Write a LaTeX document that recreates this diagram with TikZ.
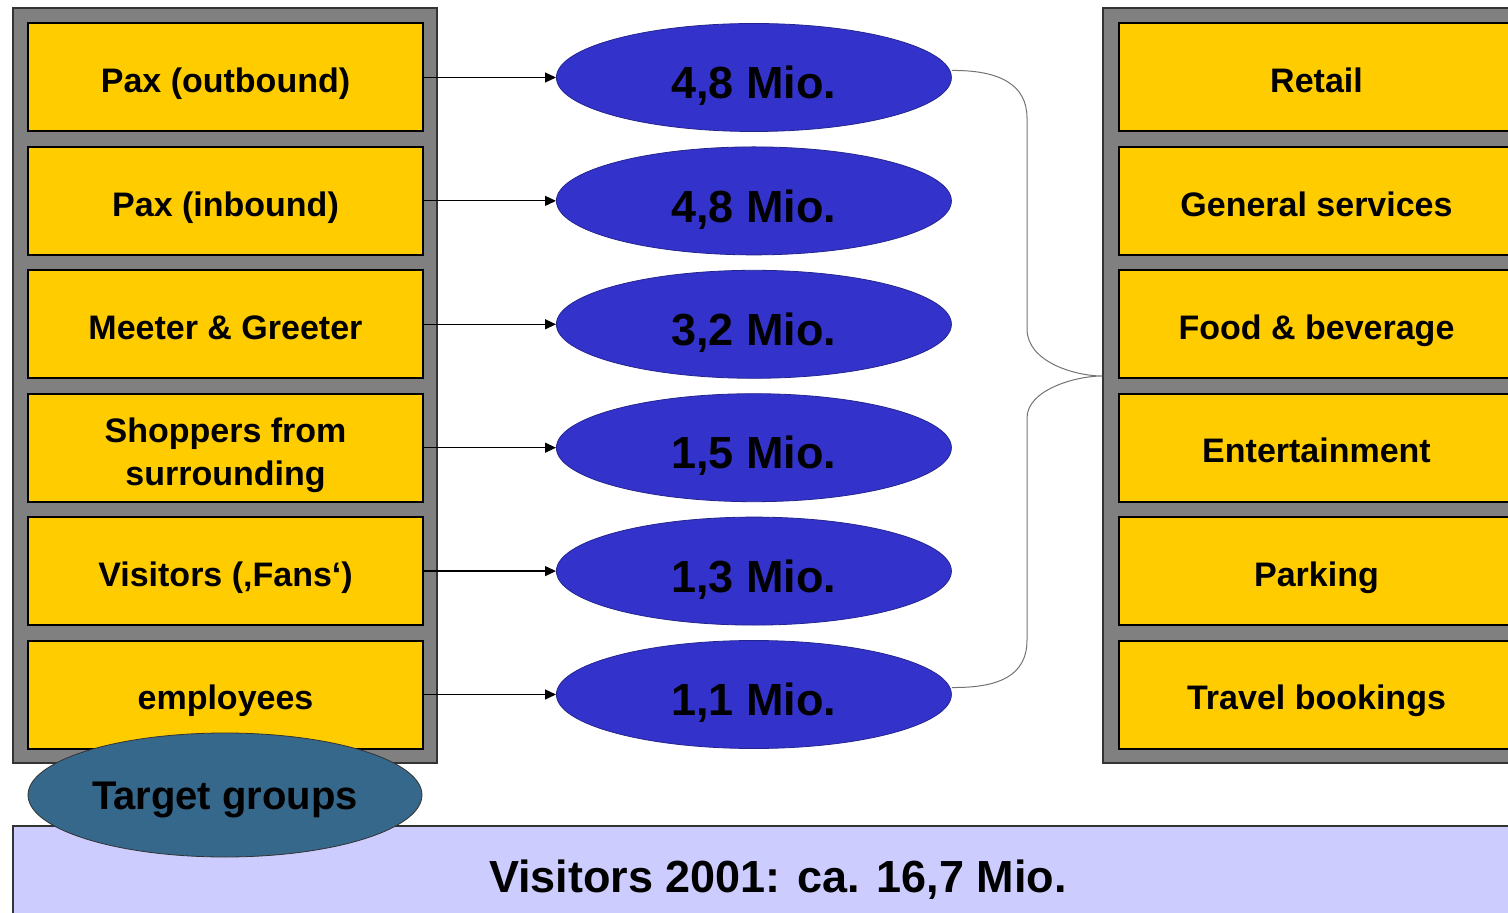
\documentclass[tikz,border=0pt]{standalone}
\usepackage{fontspec}
\setmainfont{Liberation Sans}
\usetikzlibrary{arrows.meta,calc,positioning,shapes.geometric}

\definecolor{boxyellow}{HTML}{FFCC00}
\definecolor{panelgray}{HTML}{808080}
\definecolor{mioblue}{HTML}{3333CC}
\definecolor{steel}{HTML}{36688C}
\definecolor{barlilac}{HTML}{CCCCFF}

\begin{document}
\begin{tikzpicture}[
  x=0.5pt,y=-0.5pt,
  node distance=6.7pt and 66pt,
  panel/.style={draw=black!80,fill=panelgray,line width=0.6pt,minimum width=212pt,minimum height=377.5pt,inner sep=0pt},
  group/.style={draw,fill=boxyellow,line width=1pt,minimum width=197.5pt,minimum height=54pt,inner sep=0pt,align=center,
    text height=15.7pt,text depth=0.5pt,font=\fontsize{17}{21.5}\selectfont\bfseries},
  count/.style={draw=mioblue!70!black,ellipse,fill=mioblue,line width=0.4pt,minimum width=197.5pt,minimum height=54pt,inner sep=0pt,
    text height=21.7pt,text depth=0.5pt,font=\fontsize{22.5}{26}\selectfont\bfseries},
  flow/.style={-{Triangle[length=5.5pt,width=5pt]},line width=0.6pt}]
  \useasboundingbox (0,0) rectangle (1508,913);
  \node[panel] (lpanel) at (225,385.5) {};
  \node[panel] (rpanel) at (1315,385.5) {};
  \node[draw=black!80,fill=barlilac,line width=0.6pt,minimum width=765pt,minimum height=50pt,inner sep=0pt,
    text height=16.7pt,text depth=0.5pt,font=\fontsize{22.5}{26}\selectfont\bfseries] (total) at (778,876) {Visitors 2001: ca. 16,7 Mio.};
  % target groups
  \node[group] (pout) at (225.5,77.5) {Pax (outbound)};
  \node[group,below=of pout] (pin) {Pax (inbound)};
  \node[group,below=of pin] (meet) {Meeter \& Greeter};
  \node[group,below=of meet,text height=41pt,text depth=3.6pt] (shop) {Shoppers from\\surrounding};
  \node[group,below=of shop] (fans) {Visitors (‚Fans‘)};
  \node[group,below=of fans] (empl) {employees};
  % numbers
  \node[count,right=of pout] (c1) {4,8 Mio.};
  \node[count,right=of pin] (c2) {4,8 Mio.};
  \node[count,right=of meet] (c3) {3,2 Mio.};
  \node[count,right=of shop] (c4) {1,5 Mio.};
  \node[count,right=of fans] (c5) {1,3 Mio.};
  \node[count,right=of empl] (c6) {1,1 Mio.};
  \draw[flow] (pout) -- (c1);
  \draw[flow] (pin) -- (c2);
  \draw[flow] (meet) -- (c3);
  \draw[flow] (shop) -- (c4);
  \draw[flow] (fans) -- (c5);
  \draw[flow] (empl) -- (c6);
  % offers
  \node[group] (retail) at (1316.5,77.5) {Retail};
  \node[group,below=of retail] (serv) {General services};
  \node[group,below=of serv] (food) {Food \& beverage};
  \node[group,below=of food] (ent) {Entertainment};
  \node[group,below=of ent] (park) {Parking};
  \node[group,below=of park] (travel) {Travel bookings};
  % brace
  \coordinate (tip) at (rpanel.west |- 0,376);
  \draw[black!55,line width=0.5pt] ($(c1.east)+(0,-7)$) .. controls (1000,70) and (1027,85) .. (1027,118) -- (1027,329)
    .. controls (1027,362) and (1075,376) .. (tip)
    .. controls (1075,376) and (1027,390) .. (1027,418) -- (1027,640)
    .. controls (1027,675) and (1000,688) .. ($(c6.east)+(0,-7)$);
  \node[draw=black!80,ellipse,fill=steel,line width=0.4pt,minimum width=197pt,minimum height=62pt,inner sep=0pt,
    text height=18pt,text depth=3.6pt,font=\fontsize{20}{24}\selectfont\bfseries] (target) at (225,795) {Target groups};
\end{tikzpicture}
\end{document}
